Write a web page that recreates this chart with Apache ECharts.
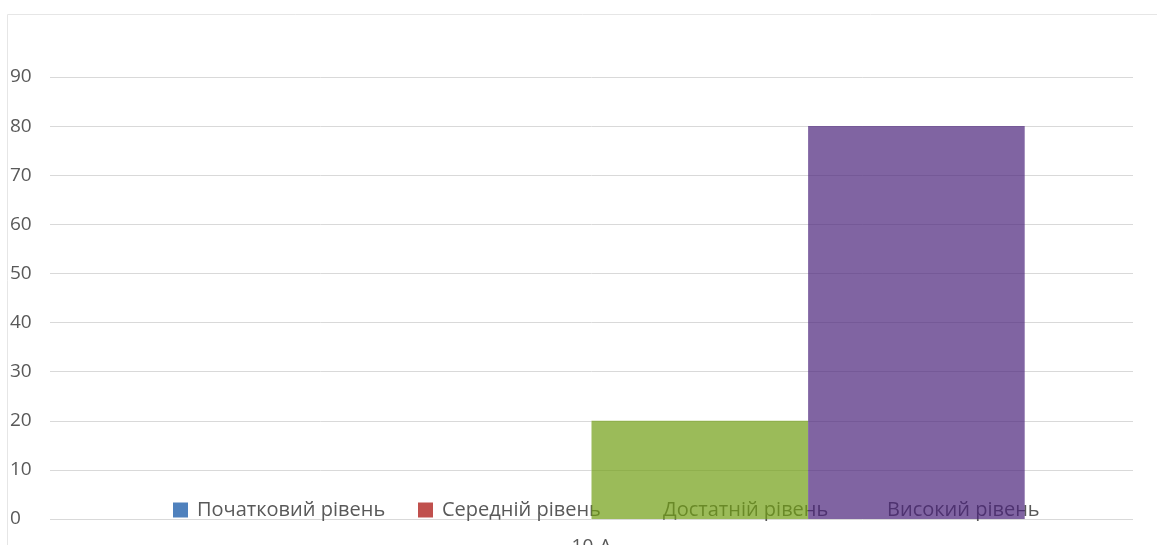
<!DOCTYPE html>
<html><head><meta charset="utf-8">
<script src="https://cdn.jsdelivr.net/npm/echarts@6/dist/echarts.min.js"></script>
<style>html,body{margin:0;padding:0;background:#fff}#c{width:1157px;height:545px}</style>
</head><body><div id="c"></div>
<script>
const categories = ['10-А'];
const seriesNames = ['Початковий рівень', 'Середній рівень', 'Достатній рівень', 'Високий рівень'];
const seriesValues = [[0], [0], [20], [80]];
const seriesColors = ['#4f81bd', '#c0504d', '#9bbb59', '#8064a2'];
const yTicks = [0, 10, 20, 30, 40, 50, 60, 70, 80, 90];

// legend item left positions (layout); markers of the last two are hidden behind bars in the original
const legendLeft = [168, 413, 634, 858];
const legendMarkerVisible = [true, true, false, false];

// bars are drawn slightly translucent over the legend; pre-compensate so they look solid on white
const A = 0.7;
function comp(hex) {
  const n = parseInt(hex.slice(1), 16);
  const ch = [(n >> 16) & 255, (n >> 8) & 255, n & 255].map(c => Math.max(0, Math.min(255, Math.round((c - (1 - A) * 255) / A))));
  return 'rgb(' + ch.join(',') + ')';
}

const chart = echarts.init(document.getElementById('c'));
const font = '"Open Sans", "Noto Sans", sans-serif';
chart.setOption({
  animation: false,
  color: seriesColors,
  graphic: [{
    type: 'rect', z: 0, silent: true,
    shape: { x: 7.5, y: 14.5, width: 1160, height: 560 },
    style: { fill: 'none', stroke: '#e6e6e6', lineWidth: 1 }
  }],
  grid: { left: 50, right: 24, top: 77, bottom: 26, containLabel: false, outerBoundsMode: 'none' },
  legend: seriesNames.map((n, i) => ({
    z: 1,
    left: legendLeft[i], top: 495,
    itemWidth: 15, itemHeight: 15, itemGap: 0,
    icon: 'rect',
    itemStyle: legendMarkerVisible[i] ? {} : { opacity: 0 },
    textStyle: { color: '#595959', fontSize: 20, fontFamily: font, padding: [0, 0, 0, 4] },
    data: [n]
  })),
  xAxis: {
    type: 'category', data: categories,
    axisLine: { show: false }, axisTick: { show: false },
    axisLabel: { color: '#595959', fontSize: 19, fontFamily: font, margin: 18 }
  },
  yAxis: {
    type: 'value', min: 0, max: 90, interval: 10,
    axisLine: { show: false }, axisTick: { show: false },
    axisLabel: { color: '#595959', fontSize: 19, fontFamily: font, align: 'left', margin: 40,
      formatter: v => yTicks.includes(v) ? String(v) : '' },
    splitLine: { lineStyle: { color: '#d9d9d9', width: 1 } }
  },
  series: seriesNames.map((n, i) => ({
    name: n, type: 'bar', z: 2, data: seriesValues[i],
    barGap: '0%', barCategoryGap: '20%',
    itemStyle: { color: comp(seriesColors[i]), opacity: A }
  }))
});
</script></body></html>
